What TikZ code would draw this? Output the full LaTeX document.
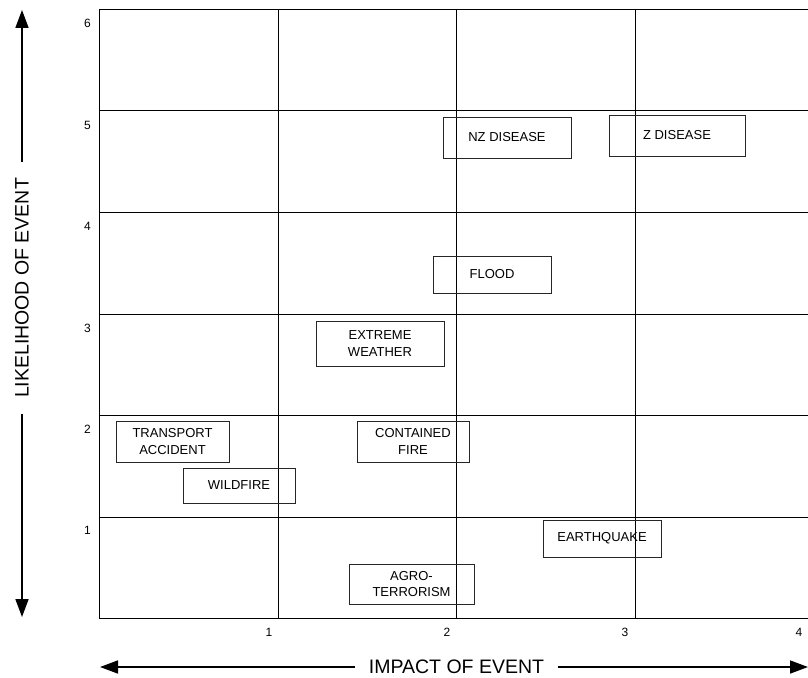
\documentclass[tikz,border=0pt]{standalone}
\usepackage{fontspec}
\setmainfont{Liberation Sans}
\usetikzlibrary{arrows.meta}
\begin{document}
\begin{tikzpicture}[x=1pt,y=-1pt,
  gridline/.style={line width=0.9pt,black},
  evbox/.style={draw=black!85,line width=0.9pt,align=center,inner sep=0pt,
    font=\fontsize{13}{16.5}\selectfont},
  num/.style={font=\fontsize{12}{14}\selectfont,inner sep=0pt},
  axlab/.style={font=\fontsize{19.5}{22}\selectfont,inner sep=0pt},
  axarrow/.style={line width=1.6pt,-{Triangle[length=18pt,width=13pt]}}]
\useasboundingbox (0,0) rectangle (808,677);
% grid
\draw[gridline] (99,9) -- (99,618.5);
\foreach \x in {278,456,635}{\draw[gridline] (\x,9) -- (\x,618.5);}
\foreach \y in {9,110,212,314,415,517,618}{\draw[gridline] (99,\y) -- (808,\y);}
% y numbers
\node[num] (y6) at (87.5,23) {6};
\node[num] (y5) at (87.5,125) {5};
\node[num] (y4) at (87.5,226) {4};
\node[num] (y3) at (87.5,328) {3};
\node[num] (y2) at (87.5,429) {2};
\node[num] (y1) at (87.5,530) {1};
% x numbers
\node[num] (x1) at (269,632.5) {1};
\node[num] (x2) at (447,632.5) {2};
\node[num] (x3) at (625,632.5) {3};
\node[num] (x4) at (799,632.5) {4};
% event boxes
\node[evbox,minimum width=113pt,minimum height=41pt] (transport) at (172.5,441.5) {TRANSPORT\\ACCIDENT};
\node[evbox,minimum width=112pt,minimum height=35pt] (wildfire) at (239,485.5) {WILDFIRE};
\node[evbox,minimum width=112pt,minimum height=41pt] (contained) at (413,441.5) {CONTAINED\\FIRE};
\node[evbox,minimum width=118pt,minimum height=37pt] (quake) at (602,538.5) {EARTHQUAKE};
\node[evbox,minimum width=125pt,minimum height=40pt] (agro) at (411.5,584) {AGRO-\\TERRORISM};
\node[evbox,minimum width=128pt,minimum height=41pt] (nz) at (507,137.5) {NZ DISEASE};
\node[evbox,minimum width=136pt,minimum height=41pt] (z) at (677,135.5) {Z DISEASE};
\node[evbox,minimum width=118pt,minimum height=37pt] (flood) at (492,274.5) {FLOOD};
\node[evbox,minimum width=128pt,minimum height=45pt] (extreme) at (380,343.5) {EXTREME\\WEATHER};
% axis labels and arrows
\node[axlab,rotate=90,minimum width=252pt] (ylab) at (22,288) {LIKELIHOOD OF EVENT};
\coordinate (ytop) at (22,10);
\coordinate (ybot) at (22,617);
\draw[axarrow] (ylab.east) -- (ytop);
\draw[axarrow] (ylab.west) -- (ybot);
\node[axlab,minimum width=203pt] (xlab) at (456.5,667) {IMPACT OF EVENT};
\coordinate (xleft) at (100,667);
\coordinate (xright) at (808,667);
\draw[axarrow] (xlab.west) -- (xleft);
\draw[axarrow] (xlab.east) -- (xright);
\end{tikzpicture}
\end{document}
